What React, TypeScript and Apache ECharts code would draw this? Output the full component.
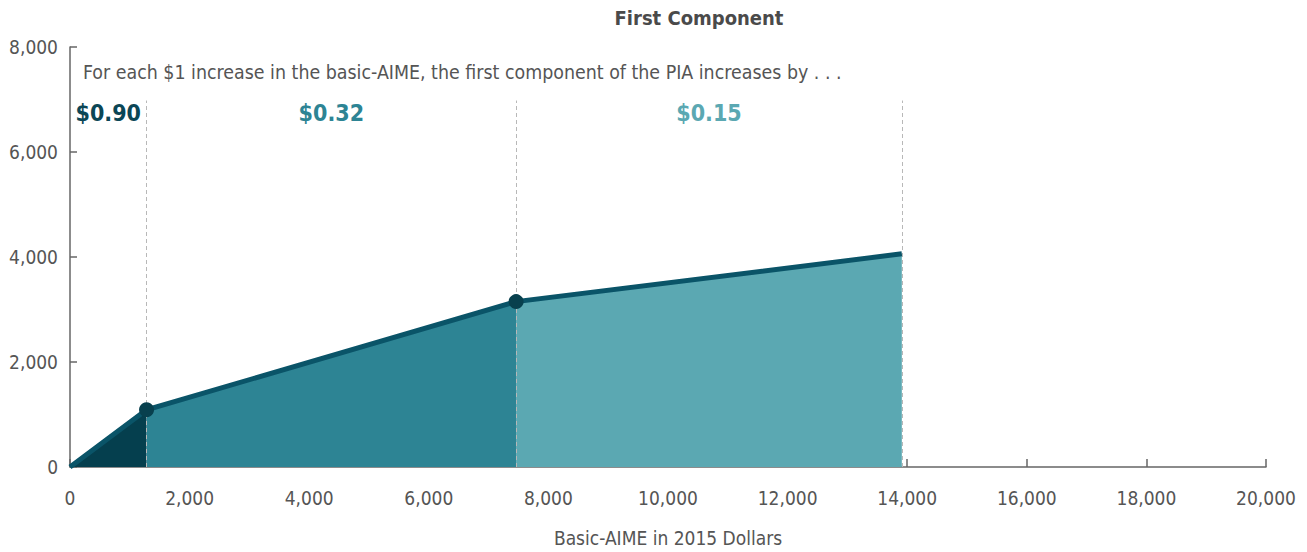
import React, { useEffect, useRef } from "react";
import * as echarts from "echarts";

const FONT = "'Liberation Sans Narrow', 'DejaVu Sans Condensed', 'Roboto', sans-serif";

// Basic-AIME (x) and first-component PIA (y) at the kink points
const pointsX = [0, 1280, 7460, 13910];
const pointsY = [0, 1090, 3150, 4060];
const rateLabels = ["$0.90", "$0.32", "$0.15"];
const rateLabelY = 6740;
const dividerTop = 6980;
const xTicks = { min: 0, max: 20000, interval: 2000 };
const yTicks = { min: 0, max: 8000, interval: 2000 };
const fillColors = ["#053F4E", "#2D8494", "#5BA8B2"];
const labelColors = ["#0B4656", "#2D8494", "#5BA8B2"];

export default function App() {
  const ref = useRef<HTMLDivElement>(null);
  useEffect(() => {
    if (!ref.current) return;
    const chart = echarts.init(ref.current, undefined, { renderer: "svg" });
    const segs = [0, 1, 2].map((i) => ({
      type: "line",
      data: [
        [pointsX[i], pointsY[i]],
        [pointsX[i + 1], pointsY[i + 1]],
      ],
      symbol: "none",
      lineStyle: { width: 0 },
      areaStyle: { color: fillColors[i], opacity: 1 },
      z: 1,
      silent: true,
    }));
    const dividers = {
      type: "line",
      data: [],
      z: 3,
      markLine: {
        symbol: "none",
        silent: true,
        label: { show: false },
        lineStyle: { color: "#b8b8b8", type: [4, 3], width: 1 },
        data: pointsX.slice(1).map((x) => [
          { coord: [x, 0] },
          { coord: [x, dividerTop] },
        ]),
      },
    };
    const topLine = {
      type: "line",
      data: pointsX.map((x, i) => [x, pointsY[i]]),
      symbol: "none",
      lineStyle: { color: "#0A5468", width: 5, join: "miter" },
      z: 4,
      silent: true,
    };
    const dots = {
      type: "scatter",
      data: [1, 2].map((i) => [pointsX[i], pointsY[i]]),
      symbolSize: 15,
      itemStyle: { color: "#08404E", opacity: 1 },
      z: 5,
      silent: true,
    };
    const labels = {
      type: "scatter",
      data: rateLabels.map((t, i) => ({
        value: [(pointsX[i] + pointsX[i + 1]) / 2, rateLabelY],
        label: {
          show: true,
          position: "inside",
          formatter: t,
          color: labelColors[i],
          opacity: 1,
          fontFamily: FONT,
          fontWeight: "bold",
          fontSize: 23,
        },
      })),
      symbolSize: 1,
      itemStyle: { color: "rgba(0,0,0,0)", opacity: 1 },
      z: 6,
      silent: true,
    };
    chart.setOption({
      animation: false,
      textStyle: { fontFamily: FONT },
      title: {
        text: "First Component",
        left: 694,
        top: 3,
        textAlign: "center",
        textStyle: { fontFamily: FONT, fontSize: 20, fontWeight: "bold", color: "#4a4a4a" },
      },
      graphic: [
        {
          type: "text",
          left: 83,
          top: 63,
          style: {
            text: "For each $1 increase in the basic-AIME, the first component of the PIA increases by . . .",
            font: `19.4px ${FONT}`,
            fill: "#555555",
          },
        },
      ],
      grid: { left: 70, right: 41, top: 47, bottom: 82, containLabel: false },
      xAxis: {
        type: "value",
        ...xTicks,
        name: "Basic-AIME in 2015 Dollars",
        nameLocation: "middle",
        nameGap: 61,
        nameTextStyle: { fontFamily: FONT, fontSize: 19, color: "#555555" },
        axisLine: { show: true, lineStyle: { color: "#666666", width: 1.5 } },
        axisTick: { show: true, inside: true, length: 8, lineStyle: { color: "#666666", width: 1.5 } },
        splitLine: { show: false },
        axisLabel: {
          fontFamily: FONT,
          fontSize: 19,
          color: "#555555",
          margin: 21,
          formatter: (v: number) => v.toLocaleString("en-US"),
        },
      },
      yAxis: {
        type: "value",
        ...yTicks,
        axisLine: { show: true, lineStyle: { color: "#666666", width: 1.5 } },
        axisTick: { show: true, inside: true, length: 7, lineStyle: { color: "#666666", width: 1.5 } },
        splitLine: { show: false },
        axisLabel: {
          fontFamily: FONT,
          fontSize: 19,
          color: "#555555",
          margin: 12,
          formatter: (v: number) => v.toLocaleString("en-US"),
        },
      },
      series: [...segs, dividers, topLine, dots, labels],
    });
    return () => chart.dispose();
  }, []);
  return (
    <div
      ref={ref}
      style={{ position: "fixed", left: 0, top: 0, width: 1307, height: 552, background: "#fff" }}
    />
  );
}
